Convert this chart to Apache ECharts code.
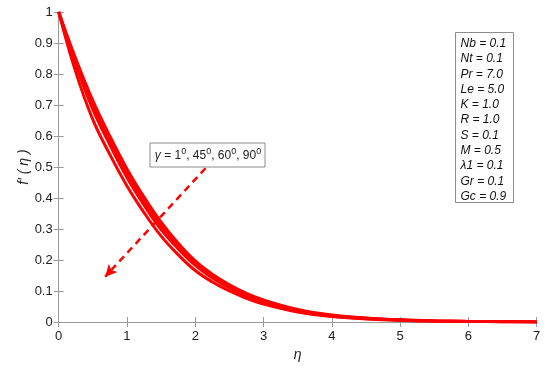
<!DOCTYPE html>
<html>
<head>
<meta charset="utf-8">
<script src="https://cdn.jsdelivr.net/npm/echarts@6/dist/echarts.min.js"></script>
<style>
  html, body { margin: 0; padding: 0; background: #fff; }
  #chart { width: 550px; height: 370px; }
</style>
</head>
<body>
<div id="chart"></div>
<script>
// eta grid and velocity profiles f'(eta) for gamma = 1, 45, 60, 90 degrees
const eta = [0, 0.25, 0.5, 0.75, 1, 1.25, 1.5, 1.75, 2, 2.25, 2.5, 2.75, 3, 3.5, 4, 4.5, 5, 5.5, 6, 6.5, 7]
const gamma1 = [1, 0.849, 0.714, 0.599, 0.494, 0.403, 0.322, 0.254, 0.197, 0.154, 0.12, 0.0925, 0.071, 0.0405, 0.0225, 0.013, 0.007, 0.0035, 0.0018, 0.0009, 0.0003]
const gamma45 = [1, 0.84, 0.70, 0.585, 0.48, 0.39, 0.31, 0.245, 0.19, 0.148, 0.115, 0.088, 0.067, 0.038, 0.021, 0.012, 0.0065, 0.0035, 0.0018, 0.0009, 0.0003]
const gamma60 = [1, 0.831, 0.686, 0.571, 0.466, 0.377, 0.298, 0.236, 0.183, 0.142, 0.11, 0.0835, 0.063, 0.0355, 0.0195, 0.011, 0.006, 0.0035, 0.0018, 0.0009, 0.0003]
const gamma90 = [1, 0.806, 0.653, 0.54, 0.439, 0.353, 0.277, 0.217, 0.166, 0.129, 0.1, 0.0765, 0.058, 0.0325, 0.0175, 0.01, 0.0055, 0.003, 0.0018, 0.0009, 0.0003]

// dashed arrow (data coords): tail -> head
const arrowFrom = [2.15, 0.496]
const arrowTo = [0.68, 0.146]

const params = ['Nb = 0.1', 'Nt = 0.1', 'Pr = 7.0', 'Le = 5.0', 'K = 1.0', 'R = 1.0',
    'S = 0.1', 'M = 0.5', 'λ1 = 0.1', 'Gr = 0.1', 'Gc = 0.9']

const FONT = '"Liberation Sans", Arial, Helvetica, sans-serif'
const RED = '#ff0000'
const AXIS = '#9a9a9a'

const chart = echarts.init(document.getElementById('chart'))

const mkSeries = (vals) => ({
    type: 'line',
    data: eta.map((x, i) => [x, vals[i]]),
    showSymbol: false,
    smooth: 0.4,
    lineStyle: { color: RED, width: 3 },
    itemStyle: { color: RED },
    silent: true
})

const series = [gamma1, gamma45, gamma60, gamma90].map(mkSeries)
series[3].markLine = {
    silent: true,
    symbol: ['none', 'arrow'],
    symbolSize: [9, 12],
    label: { show: false },
    lineStyle: { color: RED, width: 2.5, type: [7, 5] },
    data: [[{ coord: arrowFrom }, { coord: arrowTo }]]
}

const tickStyle = { inside: true, length: 5, lineStyle: { color: AXIS } }

chart.setOption({
    animation: false,
    grid: { left: 58.7, right: 13.3, top: 12, bottom: 48 },
    xAxis: [
        {
            type: 'value', min: 0, max: 7, interval: 1,
            name: 'η', nameLocation: 'middle', nameGap: 24,
            nameTextStyle: { fontFamily: FONT, fontSize: 14, fontStyle: 'italic', color: '#222' },
            axisLine: { lineStyle: { color: AXIS } },
            axisTick: tickStyle,
            axisLabel: { fontFamily: FONT, fontSize: 13, color: '#222', margin: 8 },
            splitLine: { show: false }
        },
        {
            type: 'value', min: 0, max: 7, interval: 1, position: 'top',
            axisLine: { lineStyle: { color: AXIS } },
            axisTick: tickStyle,
            axisLabel: { show: false },
            splitLine: { show: false }
        }
    ],
    yAxis: [
        {
            type: 'value', min: 0, max: 1, interval: 0.1,
            axisLine: { show: true, lineStyle: { color: AXIS } },
            axisTick: tickStyle,
            axisLabel: { fontFamily: FONT, fontSize: 13, color: '#222', margin: 6 },
            splitLine: { show: false }
        },
        {
            type: 'value', min: 0, max: 1, interval: 0.1, position: 'right',
            axisLine: { show: true, lineStyle: { color: AXIS } },
            axisTick: tickStyle,
            axisLabel: { show: false },
            splitLine: { show: false }
        }
    ],
    series: series,
    graphic: [
        {
            // y axis title
            type: 'text',
            x: 24, y: 167,
            rotation: Math.PI / 2,
            style: {
                text: 'f′ ( η )',
                fontFamily: FONT, fontSize: 14, fontStyle: 'italic', fill: '#222',
                align: 'center', verticalAlign: 'middle'
            }
        },
        {
            type: 'rect',
            shape: { x: 150, y: 143, width: 115, height: 24 },
            style: { fill: '#fff', stroke: '#8c8c8c', lineWidth: 1 },
            z: 10
        },
        {
            type: 'text',
            x: 208, y: 156,
            z: 11,
            style: {
                text: '{g|γ} = 1{s|0}, 45{s|0}, 60{s|0}, 90{s|0}',
                fontFamily: FONT, fontSize: 12, fill: '#222',
                align: 'center', verticalAlign: 'middle',
                rich: {
                    g: { fontFamily: FONT, fontSize: 12, fontStyle: 'italic', fill: '#222' },
                    s: { fontFamily: FONT, fontSize: 9, fill: '#222', verticalAlign: 'bottom', padding: [0, 0, 8, 0] }
                }
            }
        },
        {
            type: 'rect',
            shape: { x: 455.5, y: 32.5, width: 58, height: 170 },
            style: { fill: '#fff', stroke: '#8c8c8c', lineWidth: 1 },
            z: 10
        },
        {
            type: 'text',
            x: 460.5, y: 36,
            z: 11,
            style: {
                text: params.join('\n'),
                fontFamily: FONT, fontSize: 12, fontStyle: 'italic', fill: '#111',
                lineHeight: 15.3
            }
        }
    ]
})
</script>
</body>
</html>
